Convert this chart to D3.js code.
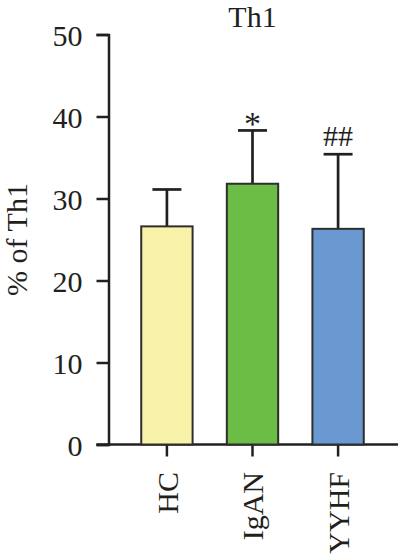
<!DOCTYPE html>
<html>
  <head>
    <meta charset="UTF-8">
    <title>Th1</title>
    <script src="https://d3js.org/d3.v7.min.js"></script>
    <style>
      body { margin: 0; background: #fff; }
      svg text { font-family: "Liberation Serif", "Times New Roman", Times, serif; fill: #231f20; }
      .axis path, .axis line { stroke: #231f20; stroke-width: 2.5; }
      .axis text { font-size: 30px; }
    </style>
  </head>
  <body>
    <div id="chart"></div>
<script>
  // data
  var groups = ["HC", "IgAN", "YYHF"];
  var means = [26.6, 31.8, 26.3];
  var errors = [4.5, 6.5, 9.1];
  var marks = ["", "*", "##"];
  var colors = ["#f8f3a9", "#6bbd45", "#6a98d0"];
  var yTicks = [0, 10, 20, 30, 40, 50];

  var W = 399, H = 554;
  var svg = d3.select("#chart").append("svg")
    .attr("width", W).attr("height", H);

  var y = d3.scaleLinear().domain([0, 50]).range([444.5, 34.5]);
  var x = d3.scaleBand().domain(groups).range([107, 398]).padding(0.4);

  // y axis
  var ya = svg.append("g")
    .attr("class", "axis")
    .attr("transform", "translate(108.5,0)")
    .call(d3.axisLeft(y).tickValues(yTicks).tickSize(12).tickSizeOuter(12).tickPadding(14));
  ya.selectAll("text").attr("dy", "0.36em");
  ya.attr("font-family", null).attr("font-size", null);

  // x axis line + ticks
  var xa = svg.append("g").attr("class", "axis");
  xa.append("line")
    .attr("x1", 96.5).attr("x2", 398)
    .attr("y1", y(0)).attr("y2", y(0));
  xa.selectAll(".xt").data(groups).enter().append("line")
    .attr("x1", d => x(d) + x.bandwidth() / 2)
    .attr("x2", d => x(d) + x.bandwidth() / 2)
    .attr("y1", y(0)).attr("y2", y(0) + 12);
  xa.selectAll(".xl").data(groups).enter().append("text")
    .attr("text-anchor", "end")
    .attr("dy", "0.36em")
    .attr("transform", d => "translate(" + (x(d) + x.bandwidth() / 2) + ",472) rotate(-90)")
    .style("font-size", "30px")
    .text(d => d);

  // error bars (upper only)
  var eb = svg.append("g");
  groups.forEach(function(g, i) {
    var cx = x(g) + x.bandwidth() / 2;
    eb.append("line")
      .attr("x1", cx).attr("x2", cx)
      .attr("y1", y(means[i])).attr("y2", y(means[i] + errors[i]))
      .attr("stroke", "#231f20").attr("stroke-width", 2.7);
    eb.append("line")
      .attr("x1", cx - 14.5).attr("x2", cx + 14.5)
      .attr("y1", y(means[i] + errors[i])).attr("y2", y(means[i] + errors[i]))
      .attr("stroke", "#231f20").attr("stroke-width", 2.7);
  });

  // bars
  svg.append("g").selectAll("rect").data(groups).enter().append("rect")
    .attr("x", d => x(d))
    .attr("width", x.bandwidth())
    .attr("y", (d, i) => y(means[i]))
    .attr("height", (d, i) => y(0) - y(means[i]))
    .attr("fill", (d, i) => colors[i])
    .attr("stroke", "#2e2e2e")
    .attr("stroke-width", 2);

  // significance marks
  svg.append("g").selectAll("text").data(groups).enter().append("text")
    .attr("x", d => x(d) + x.bandwidth() / 2)
    .attr("y", (d, i) => y(means[i] + errors[i]) + (marks[i] == "*" ? 5 : -8))
    .attr("text-anchor", "middle")
    .style("font-size", (d, i) => marks[i] == "*" ? "34px" : "30px")
    .text((d, i) => marks[i]);

  // title
  svg.append("text")
    .attr("x", 252.5).attr("y", 27)
    .attr("text-anchor", "middle")
    .style("font-size", "30px")
    .text("Th1");

  // y label
  svg.append("text")
    .attr("transform", "translate(27," + ((y(0) + y(50)) / 2) + ") rotate(-90)")
    .attr("text-anchor", "middle")
    .style("font-size", "30px")
    .text("% of Th1");
</script>
  </body>
</html>
